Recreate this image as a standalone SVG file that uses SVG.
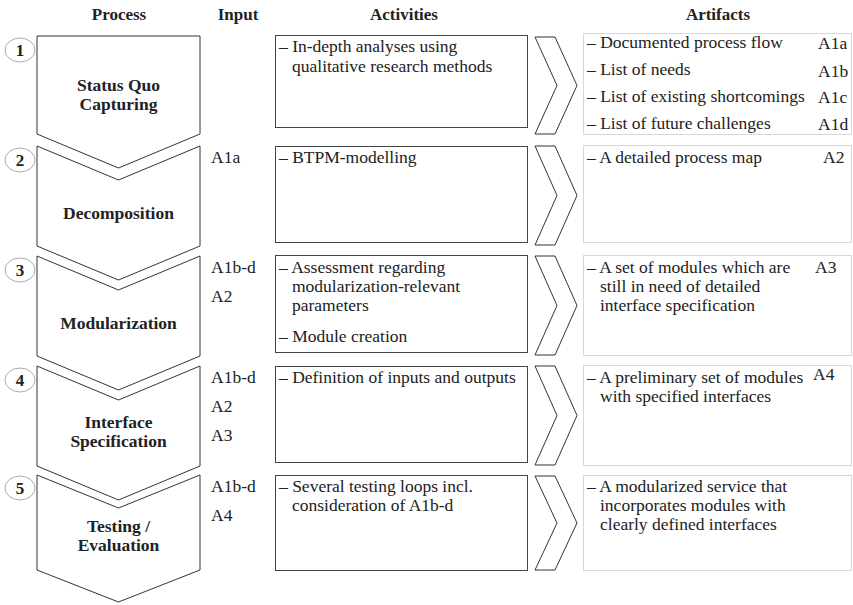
<svg xmlns="http://www.w3.org/2000/svg" width="853" height="605" viewBox="0 0 853 605">
  <style>
    text { font-family: "Liberation Serif", "DejaVu Serif", serif; fill: #222; }
    .hdr { font-size: 17px; font-weight: bold; text-anchor: middle; }
    .lbl { font-size: 17.5px; font-weight: bold; text-anchor: middle; }
    .t { font-size: 17.5px; }
    .num { font-size: 17px; font-weight: bold; text-anchor: middle; }
    .shape { fill: #fff; stroke: #333; stroke-width: 1; }
    .act { fill: #fff; stroke: #444; stroke-width: 1; }
    .art { fill: #fff; stroke: #d8d8d8; stroke-width: 1; }
    .badge { fill: #fff; stroke: #aaa; stroke-width: 1; }
    .chev { fill: #fff; stroke: #333; stroke-width: 1; }
  </style>
  <rect width="853" height="605" fill="#fff"/>

  <!-- column headers -->
  <g id="headers">
    <text class="hdr" x="119" y="20">Process</text>
    <text class="hdr" x="238" y="20">Input</text>
    <text class="hdr" x="404" y="20">Activities</text>
    <text class="hdr" x="718" y="20">Artifacts</text>
  </g>

  <!-- process steps -->
  <g id="step1">
    <path class="shape" d="M37,36 L200,36 L200,134 L118.5,168 L37,134 Z"/>
    <ellipse class="badge" cx="20" cy="50" rx="15" ry="12"/>
    <text class="num" x="20" y="56">1</text>
    <text class="lbl" x="118.5" y="91">Status Quo</text>
    <text class="lbl" x="118.5" y="110">Capturing</text>
  </g>
  <g id="step2">
    <path class="shape" d="M37,146 L118.5,180 L200,146 L200,246 L118.5,280 L37,246 Z"/>
    <ellipse class="badge" cx="20" cy="160" rx="15" ry="12"/>
    <text class="num" x="20" y="166">2</text>
    <text class="lbl" x="118.5" y="219">Decomposition</text>
  </g>
  <g id="step3">
    <path class="shape" d="M37,256 L118.5,290 L200,256 L200,356 L118.5,390 L37,356 Z"/>
    <ellipse class="badge" cx="20" cy="270" rx="15" ry="12"/>
    <text class="num" x="20" y="276">3</text>
    <text class="lbl" x="118.5" y="329">Modularization</text>
  </g>
  <g id="step4">
    <path class="shape" d="M37,366 L118.5,400 L200,366 L200,466 L118.5,500 L37,466 Z"/>
    <ellipse class="badge" cx="20" cy="380" rx="15" ry="12"/>
    <text class="num" x="20" y="386">4</text>
    <text class="lbl" x="118.5" y="428">Interface</text>
    <text class="lbl" x="118.5" y="447">Specification</text>
  </g>
  <g id="step5">
    <path class="shape" d="M37,475 L118.5,508 L200,475 L200,570 L118.5,602 L37,570 Z"/>
    <ellipse class="badge" cx="20" cy="488" rx="15" ry="12"/>
    <text class="num" x="20" y="494">5</text>
    <text class="lbl" x="118.5" y="532">Testing /</text>
    <text class="lbl" x="118.5" y="551">Evaluation</text>
  </g>

  <!-- inputs -->
  <g id="inputs">
    <text class="t" x="211" y="163">A1a</text>
    <text class="t" x="211" y="273">A1b-d</text>
    <text class="t" x="211" y="302">A2</text>
    <text class="t" x="211" y="383">A1b-d</text>
    <text class="t" x="211" y="412">A2</text>
    <text class="t" x="211" y="441">A3</text>
    <text class="t" x="211" y="492">A1b-d</text>
    <text class="t" x="211" y="521">A4</text>
  </g>

  <!-- activities -->
  <g id="activity1">
    <rect class="act" x="275.5" y="35.5" width="252" height="92"/>
    <text class="t" x="279" y="52">– In-depth analyses using</text>
    <text class="t" x="292" y="72">qualitative research methods</text>
  </g>
  <g id="activity2">
    <rect class="act" x="275.5" y="146.5" width="252" height="96"/>
    <text class="t" x="279" y="163">– BTPM-modelling</text>
  </g>
  <g id="activity3">
    <rect class="act" x="275.5" y="255.5" width="252" height="97"/>
    <text class="t" x="279" y="273">– Assessment regarding</text>
    <text class="t" x="292" y="292">modularization-relevant</text>
    <text class="t" x="292" y="311">parameters</text>
    <text class="t" x="279" y="342">– Module creation</text>
  </g>
  <g id="activity4">
    <rect class="act" x="275.5" y="366.5" width="252" height="96"/>
    <text class="t" x="279" y="383">– Definition of inputs and outputs</text>
  </g>
  <g id="activity5">
    <rect class="act" x="275.5" y="475.5" width="252" height="95"/>
    <text class="t" x="279" y="492">– Several testing loops incl.</text>
    <text class="t" x="292" y="511">consideration of A1b-d</text>
  </g>

  <!-- chevron connectors from activities to artifacts -->
  <g id="connectors">
    <path class="chev" d="M535,37 L555,37 L577,85.5 L555,134 L535,134 L557,85.5 Z"/>
    <path class="chev" d="M535,146 L555,146 L577,195.5 L555,245 L535,245 L557,195.5 Z"/>
    <path class="chev" d="M535,256 L555,256 L577,305.5 L555,355 L535,355 L557,305.5 Z"/>
    <path class="chev" d="M535,366 L555,366 L577,415.5 L555,465 L535,465 L557,415.5 Z"/>
    <path class="chev" d="M535,476 L555,476 L577,523 L555,570 L535,570 L557,523 Z"/>
  </g>

  <!-- artifacts -->
  <g id="artifact1">
    <rect class="art" x="583.5" y="33.5" width="268" height="101"/>
    <text class="t" x="587" y="48">– Documented process flow</text>
    <text class="t" x="818" y="49">A1a</text>
    <text class="t" x="587" y="75">– List  of needs</text>
    <text class="t" x="818" y="77">A1b</text>
    <text class="t" x="587" y="102">– List of existing shortcomings</text>
    <text class="t" x="818" y="103">A1c</text>
    <text class="t" x="587" y="129">– List of future challenges</text>
    <text class="t" x="818" y="130">A1d</text>
  </g>
  <g id="artifact2">
    <rect class="art" x="583.5" y="145.5" width="268" height="97"/>
    <text class="t" x="587" y="163">– A detailed process map</text>
    <text class="t" x="823" y="163">A2</text>
  </g>
  <g id="artifact3">
    <rect class="art" x="583.5" y="255.5" width="268" height="100"/>
    <text class="t" x="587" y="273">– A set of modules which are</text>
    <text class="t" x="600" y="292">still in need of detailed</text>
    <text class="t" x="600" y="311">interface specification</text>
    <text class="t" x="815" y="273">A3</text>
  </g>
  <g id="artifact4">
    <rect class="art" x="583.5" y="365.5" width="268" height="100"/>
    <text class="t" x="587" y="383">– A preliminary set of modules</text>
    <text class="t" x="600" y="402">with specified interfaces</text>
    <text class="t" x="813" y="380">A4</text>
  </g>
  <g id="artifact5">
    <rect class="art" x="583.5" y="475.5" width="268" height="95"/>
    <text class="t" x="587" y="492">– A modularized service that</text>
    <text class="t" x="600" y="511">incorporates modules with</text>
    <text class="t" x="600" y="530">clearly defined interfaces</text>
  </g>
</svg>
